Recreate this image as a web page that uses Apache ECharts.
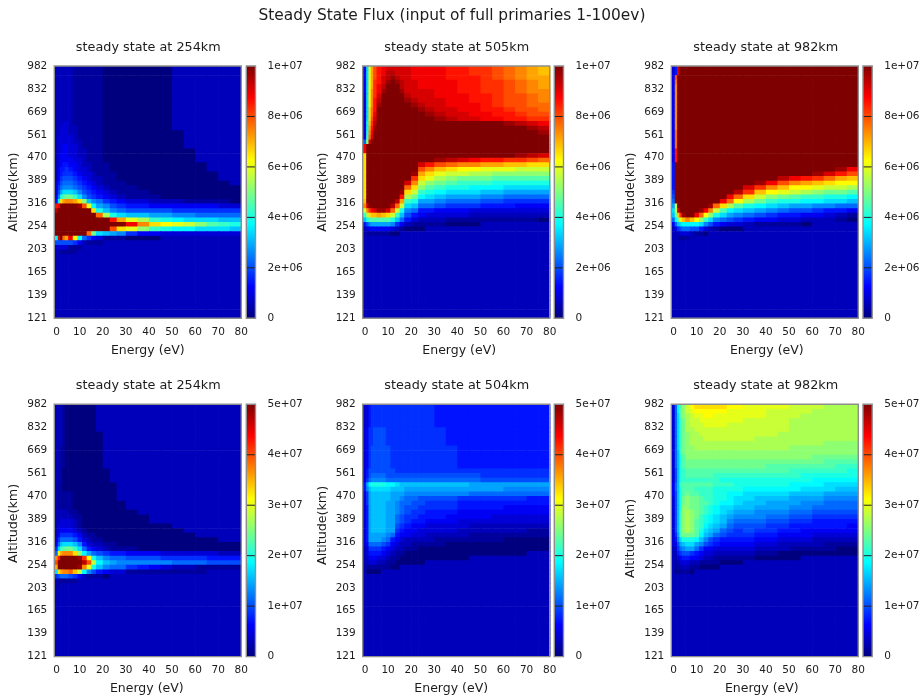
<!DOCTYPE html>
<html>
<head>
<meta charset="utf-8">
<script src="https://cdn.jsdelivr.net/npm/echarts@6/dist/echarts.min.js"></script>
<style>html,body{margin:0;padding:0;background:#fff}#c{width:923px;height:699px}</style>
</head>
<body>
<div id="c"></div>
<script>
const mainTitle = "Steady State Flux (input of full primaries 1-100ev)";
const panelTitles = ["steady state at 254km","steady state at 505km","steady state at 982km","steady state at 254km","steady state at 504km","steady state at 982km"];
const altitudeLabels = ["121","139","165","203","254","316","389","470","561","669","832","982"];
const energyTicks = [0,10,20,30,40,50,60,70,80];
const energyEdges = [-1,0.5,1.5,2.5,3.5,5,7,9,11,13,15,17,20,23,26,30,35,40,45,50,55,60,65,70,75,80];
const topBarTicks = ["0","2e+06","4e+06","6e+06","8e+06","1e+07"];
const bottomBarTicks = ["0","1e+07","2e+07","3e+07","4e+07","5e+07"];
const topBarValues = [0,2e6,4e6,6e6,8e6,1e7];
const bottomBarValues = [0,1e7,2e7,3e7,4e7,5e7];
const panelMax = [1e7,1e7,1e7,5e7,5e7,5e7];
const jet = ["#00007f","#0000ff","#007fff","#00ffff","#7fff7f","#ffff00","#ff7f00","#ff0000","#7f0000"];

// Each string is one altitude row, highest first. Each character is a flux level
// read from the colours in the picture, 0-z meaning 0/35 to 35/35 of the colour bar.
const B = "2 2222 22222 22222 2222 222222";
const A1 = "2 2222 21111 11000 0000 222222";
const flux254a = [A1,A1,A1,A1,A1,A1,A1,A1,A1,A1,A1,A1,
"2 2233 21111 11000 0000 222222","2 2333 22111 11000 0000 222222","2 2333 22111 11000 0000 022222",
"2 3333 32111 11000 0000 022222","2 3333 32211 11000 0000 022222","2 3344 33211 11000 0000 022222",
"2 3344 33221 11000 0000 002222","2 3444 33221 11000 0000 002222","2 3444 43321 11000 0000 002222",
"2 3455 44322 11100 0000 000222","2 4556 54332 11100 0000 000222","2 4566 65433 21110 0000 000022",
"2 4677 76543 22110 0000 000022","3 5788 87654 32111 0000 000002","3 6899 98765 43211 1000 000000",
"3 7acc cb976 54321 1100 000000","4 9egh hfc97 65432 1110 000000","5 dnpq qpnib 98654 3322 211110",
"u vzzz zzysl da976 5544 444433","x zzzz zzzzz neb98 7777 666666","z zzzz zzzzz zrjec bbaa 998888",
"z zzzz zzzzz zzzup ljfe dcccbb","z zzzz zzzzz zzzzz vqnm lkigfe","z zzzz zzzzz zzzsn life ddcccb",
"z zzzz zzzzr hcba9 6443 333333","d wzrp vmd86 43111 0002 222222","7 7777 76421 11222 2222 222222",
"3 3333 11122 22222 2222 222222","2 2111 11222 22222 2222 222222",
B,B,B,B,B,B,B,B,B,B,B,B,B,B];

const flux505 = [
"4 clps uvwww wwvvv vuut tsrqpo","4 clps uvxxw wwvvv vuut tsrqpo","4 clps uwxyx wwvvv vuuu tsrqpp",
"4 cmpt uwyzy xwwvv vvuu ttsrqp","4 cmpt vxzzz xwwvv vvuu ttsrqp","4 cmqt vyzzz ywwww vvuu ttsrqq",
"3 cmqt wzzzz zxwww vvvu utssrq","3 cmqu xzzzz zyxww wvvu utssrq","3 cmqu yzzzz zzyxw wvvv utssrr",
"3 cnru zzzzz zzzyx wwvv uutssr","3 cnrv zzzzz zzzzy xwwv vuutss","3 cnsw zzzzz zzzzz yxww vvuutt",
"3 dotx zzzzz zzzzz zzzz zzyxwv","3 dpuy zzzzz zzzzz zzzz zzzzyx","3 eqvz zzzzz zzzzz zzzz zzzzzy",
"3 frwz zzzzz zzzzz zzzz zzzzzz","8 iwzz zzzzz zzzzz zzzz zzzzzz","v zzzz zzzzz zzzzz zzzz zzzzzz",
"v zzzz zzzzz zzzzz zzzz zzzzzz","n zzzz zzzzz zzzzz zzzz zzzyxw","n zzzz zzzzz zzzzz yxwv uuttsr",
"n zzzz zzzzz zzzwu srqq ppoonn","n zzzz zzzzz zzzsq onmm lllkkk","n zzzz zzzzz zzypn lkkj jiiiii",
"n zzzz zzzzz zztnl jihh hggggg","n zzzz zzzzz zwqki hgff feeeee","n zzzz zzzzz zrnig feed ddcccc",
"n zzzz zzzzz ynkfe dccc bbaaaa","n zzzz zzzzz ujhdc baaa 998888","o zzzz zzzzx pfeaa 9888 776666",
"q wzzz zzzxr kcb88 7666 555444","k qtvw yywrk e9855 4443 333333","f jnoo ponkf b7543 3332 222222",
"b eggg gggeb 85322 2111 111110","5 79aa aaa96 42111 1000 222222","2 3444 44432 10002 2222 222222",
"2 1111 11100 22222 2222 222222",
B,B,B,B,B,B,B,B,B,B,B,B,B,B,B,B,B,B];

const C1 = "4 qzzz zzzzz zzzzz zzzz zzzzzz", C2 = "4 rzzz zzzzz zzzzz zzzz zzzzzz", C3 = "4 uzzz zzzzz zzzzz zzzz zzzzzz";
const flux982a = [
"3 5wzz zzzzz zzzzz zzzz zzzzzz","3 5wzz zzzzz zzzzz zzzz zzzzzz","4 szzz zzzzz zzzzz zzzz zzzzzz",C2,
C1,C1,C1,C1,C1,C1,C1,C1,C1,C1,C2,C2,C2,C2,C3,C3,C3,
"5 zzzz zzzzz zzzzz zzzz zzzzzz","5 zzzz zzzzz zzzzz zzzz zzzzyv","5 zzzz zzzzz zzzzz zzzz zzywus",
"5 zzzz zzzzz zzzzz zzzx vutrpo","5 zzzz zzzzz zzzzz zyvs qponmm","5 zzzz zzzzz zzzzz wtqo mmlkkj",
"6 zzzz zzzzz zzzzx toml kjihhg","7 zzzz zzzzz zzzvr nkih gffeed","8 zzzz zzzzz zzvrm jhfe eddccb",
"a kzzz zzzzz yrnjg edcb aa9988","c kwzz zzzyv qkgdc ba98 776554","b hoty zzvrm ieca9 8765 544321",
"8 dhlo qomif c9876 5443 322210","4 8bcd dddc9 75433 2111 102222","2 4678 87753 21000 2222 222222",
"2 2233 32110 22222 2222 222222","2 2111 12222 22222 2222 222222",
B,B,B,B,B,B,B,B,B,B,B,B,B,B,B,B,B];

const D1 = "2 2210 00000 02222 2222 222222", D2 = "2 2210 00000 00222 2222 222222", D3 = "2 2110 00000 00222 2222 222222", D4 = "2 2100 00000 00022 2222 222222";
const flux254b = [D1,D1,D1,D1,D1,D1,D2,D2,D2,D3,D3,D3,D3,D3,D4,D4,D4,
"2 1100 00000 00002 2222 222222","2 1100 00000 00002 2222 222222",
"2 1111 10000 00002 2222 222222","2 1111 10000 00002 2222 222222",
"2 1111 10000 00000 2222 222222","2 1111 10000 00000 2222 222222",
"2 2222 11000 00000 0222 222222","2 2222 21100 00000 0022 222222","2 2333 32100 00000 0022 222222",
"2 3333 32100 00000 0000 222222","2 3444 43210 00000 0000 022222","2 4666 65421 10000 0000 002222",
"3 6888 87532 11000 0000 000022","4 8bcc cb953 22110 0000 000000","6 cfgh hfc85 43211 1000 000000",
"8 mpqq qnida 87655 4443 333322","q uzzz zzytm eb988 7776 666555","s zzzz zzzxs kdba9 9999 888777",
"p zzzz zzyql eb988 6543 221111","c npqq rokd9 75433 1111 111222","6 7888 76421 11022 2222 222222",
"2 1111 11222 22222 2222 222222","2 1222 22222 22222 2222 222222",
B,B,B,B,B,B,B,B,B,B,B,B,B,B,B];

const E1 = "3 3566 66666 66666 5555 555555", E2 = "3 4667 77666 66666 6555 555555", E3 = "3 4677 77766 66666 6655 555555";
const flux504 = [E1,E1,E1,E1,E1,E2,E2,E2,E2,E3,E3,E3,E3,E3,
"3 5777 77776 66666 6666 666666","3 5788 88777 77777 7777 666666","3 6899 99888 88888 8888 777777",
"5 adee eeddc bbbbb bbba aaaaaa","5 9bcc cccbb baaaa aaaa aa9999","3 6abb bbbaa a9999 9998 888888",
"3 6abb bbbaa 98877 7766 666655","3 6abb bbaa9 88776 6655 555555","3 5abb bbaa9 87766 6655 554444",
"3 5abb bbaa9 87665 5544 444444","3 5abb bbaa8 76655 5444 433333","3 5abb bbaa8 76554 4433 333333",
"3 5abb bbaa7 65443 3332 222222","3 5abb bbaa6 54433 3322 222211","3 5aaa aa985 44332 2221 111111",
"3 5aaa a9854 32222 1111 110000","3 4888 87643 22111 1000 000000","2 3666 65432 21100 0000 000000",
"2 3555 54321 10000 0000 000022","2 2444 33211 00000 0002 222222","2 2333 22110 00002 2222 222222",
"2 1111 11100 22222 2222 222222","2 0000 02222 22222 2222 222222",
B,B,B,B,B,B,B,B,B,B,B,B,B,B,B,B,B,B];

const flux982b = [
"3 8dgi kmnnn nnnmm llll kkkjjj","3 8dgi klmmm mmmll llkk kkjjjj","3 8cgi jkllm mllll llkk kjjjjj",
"3 8cfh jkkll lllll kkkk jjjjjj","3 8cfh jkkkl lllkk kkkk jjjjjj","3 8cfh jjkkk kkkkk kkkk jjjjjj",
"3 8cfh ijjkk kkkkk kkkj jjjjjj","3 8cfh ijjjk kkkkk kjjj jjjjjj","3 8cfh ijjjj jjjjj jjjj jjjiii",
"3 8cfh iijjj jjjjj jjjj iiiiii","3 8bfh iiiii iiiii iiii iiiiii","3 8beg iiiii iiiii iiii iihhhh",
"3 8beg hhhhh hhhhh hhhh hhhggg","3 8beg hhhhh hhhhh hhgg ggggff","3 7bef ggggg ggggg gggg fffffe",
"3 7bef ggggg gffff ffff feeeee","3 7bef fffff ffeee eeee eedddd","4 8bfg ggggg gfffe eeee dddccc",
"4 8beg ggfff feeee dddd dcccbb","4 7beg hggff feedd cccc bbbaaa","3 7beh ihhgf feedc cbbb aaa999",
"3 7beh ihhgg feddc bbaa a99888","3 7bei ihhgf edccb baaa 998888","3 7bfi jihgf edcba a999 887777",
"3 7bfi jihfe dcba9 9988 776666","3 7bfi jigfe dcb98 8877 665555","3 7bfi jigfd cba87 7766 555554",
"3 7bfi jigec ba876 7665 544444","3 6afh hhgdb a8766 6554 443333","3 59ce eedb9 76555 5443 332222",
"3 47ab cca97 65444 4332 222111","2 3689 aa864 43333 3222 111100","2 2567 76543 32222 2110 000000",
"2 2345 54432 21111 1000 022222","2 1233 32211 11000 2222 222222","2 1122 21100 00222 2222 222222",
"2 0111 10222 22222 2222 222222",
B,B,B,B,B,B,B,B,B,B,B,B,B,B,B,B,B,B];

const panelRows = [flux254a,flux505,flux982a,flux254b,flux504,flux982b];

// layout
const plotLeft = [54.3,362.7,671.3], plotWidth = 187, barLeft = [246.3,554.3,863], barWidth = 9.2;
const plotTop = [66,404.3], plotHeight = 252.3;
const xNameShift = [0,3,2,-1,-5,-3], yNameShift = [0,0,0,-7,-5,8];

function cells(rows, max){
  const out = [], n = rows.length;
  rows.forEach((row, r) => {
    const k = n - 1 - r;
    const chars = row.replace(/ /g,'');
    for (let j = 0; j < chars.length; j++) {
      out.push([energyEdges[j], energyEdges[j+1], k, k+1, parseInt(chars[j],36)/35*max]);
    }
  });
  return out;
}
const cellItem = (p, api) => {
  const a = api.coord([api.value(0), api.value(3)]), b = api.coord([api.value(1), api.value(2)]);
  return {type:'rect', shape:{x:a[0], y:a[1], width:b[0]-a[0]+0.7, height:b[1]-a[1]+0.7},
    style:{fill:api.visual('color')}};
};
const barMakers = tickValues => (p, api) => {
  const a = api.coord([api.value(0), api.value(3)]), b = api.coord([api.value(1), api.value(2)]);
  const kids = [{type:'rect', shape:{x:a[0], y:a[1], width:b[0]-a[0], height:b[1]-a[1]},
    style:{fill:new echarts.graphic.LinearGradient(0,1,0,0, jet.map((c,i)=>({offset:i/(jet.length-1),color:c})))}}];
  tickValues.slice(1,-1).forEach(v => {
    const y = api.coord([0,v])[1];
    kids.push({type:'line', shape:{x1:a[0], y1:y, x2:b[0], y2:y}, style:{stroke:'#202020', lineWidth:1}});
  });
  return {type:'group', children:kids};
};

const font = "'DejaVu Sans'", ink = '#1c1c1c';
const title = [{text:mainTitle,left:447,top:3.5,textAlign:'center',
  textStyle:{fontFamily:font,fontSize:15.4,fontWeight:'normal',color:ink}}];
const grid=[],xAxis=[],yAxis=[],series=[];
panelRows.forEach((rows,i)=>{
  const col=i%3,rowN=i<3?0:1,max=panelMax[i];
  title.push({text:panelTitles[i],left:plotLeft[col]+plotWidth/2-4.5+[0,0,0.5][col],top:plotTop[rowN]-30,textAlign:'center',
    textStyle:{fontFamily:font,fontSize:12.8,fontWeight:'normal',color:ink}});
  grid.push({left:plotLeft[col],top:plotTop[rowN],width:plotWidth,height:plotHeight,show:true,z:5,
    backgroundColor:'transparent',borderColor:'#8e8e8e',borderWidth:1.4});
  const lab={fontFamily:font,fontSize:10.5,color:ink};
  const xs=xNameShift[i], ys=yNameShift[i];
  xAxis.push({gridIndex:i,type:'value',min:-1,max:80,splitLine:{show:false},axisLine:{show:false},axisTick:{show:false},
    axisLabel:Object.assign({customValues:energyTicks,margin:8},lab),
    name:'Energy (eV)',nameLocation:'middle',nameGap:26,
    nameTextStyle:{fontFamily:font,fontSize:12.5,color:ink,padding:xs>0?[0,0,0,2*xs]:[0,-2*xs,0,0]}});
  yAxis.push({gridIndex:i,type:'value',min:0,max:55,interval:5,splitLine:{show:false},axisLine:{show:false},axisTick:{show:false},
    axisLabel:Object.assign({margin:7,formatter:v=>altitudeLabels[Math.round(v/5)]},lab),
    name:'Altitude(km)',nameLocation:'middle',nameGap:34,
    nameTextStyle:{fontFamily:font,fontSize:12.7,color:ink,padding:ys>0?[0,2*ys,0,0]:[0,0,0,-2*ys]}});
  series.push({type:'custom',xAxisIndex:i,yAxisIndex:i,coordinateSystem:'cartesian2d',clip:true,silent:true,
    encode:{x:[0,1],y:[2,3]},dimensions:['e0','e1','k0','k1','flux'],renderItem:cellItem,data:cells(rows,max),progressive:0});
});
panelRows.forEach((rows,i)=>{
  const col=i%3,rowN=i<3?0:1,max=panelMax[i],ticks=i<3?topBarTicks:bottomBarTicks,g=6+i;
  const values=i<3?topBarValues:bottomBarValues;
  grid.push({left:barLeft[col],top:plotTop[rowN],width:barWidth,height:plotHeight,show:true,z:5,
    backgroundColor:'transparent',borderColor:'#8e8e8e',borderWidth:1.4});
  xAxis.push({gridIndex:g,type:'value',min:0,max:1,show:false});
  yAxis.push({gridIndex:g,type:'value',position:'right',min:0,max:max,interval:max/5,
    splitLine:{show:false},axisLine:{show:false},axisTick:{show:false},
    axisLabel:{fontFamily:font,fontSize:10.5,color:ink,margin:12,formatter:v=>ticks[values.indexOf(v)]}});
  series.push({type:'custom',xAxisIndex:g,yAxisIndex:g,clip:true,silent:true,encode:{x:[0,1],y:[2,3]},
    renderItem:barMakers(values),data:[[0,1,0,max]]});
});
const chart = echarts.init(document.getElementById('c'),null,{renderer:'canvas'});
chart.setOption({backgroundColor:'#fff',animation:false,title,grid,xAxis,yAxis,series,
  visualMap:[
    {show:false,type:'continuous',min:0,max:1e7,dimension:4,seriesIndex:[0,1,2],inRange:{color:jet}},
    {show:false,type:'continuous',min:0,max:5e7,dimension:4,seriesIndex:[3,4,5],inRange:{color:jet}}
  ]});
</script>
</body>
</html>
